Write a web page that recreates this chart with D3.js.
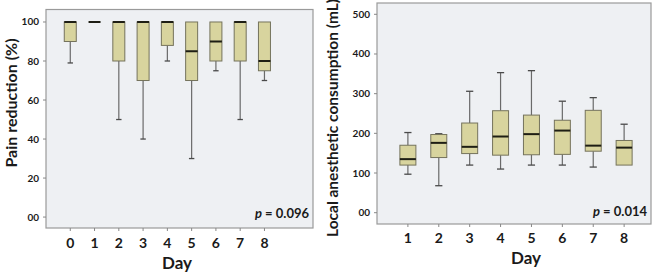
<!DOCTYPE html>
<html>
<head>
<meta charset="utf-8">
<script src="https://cdn.jsdelivr.net/npm/d3@7"></script>
<style>
  body { margin: 0; background: #fff; }
  text { font-family: Lato, "Open Sans", sans-serif; font-weight: bold; fill: #1a1a1a; }
</style>
</head>
<body>
<div id="visualization"></div>
<script>
// pain reduction (%), days 0..8
var painDays = [0, 1, 2, 3, 4, 5, 6, 7, 8];
var painMin = [79, 100, 50, 40, 80, 30, 75, 50, 70];
var painQ1 = [90, 100, 80, 70, 88, 70, 80, 80, 75];
var painMed = [100, 100, 100, 100, 100, 85, 90, 100, 80];
var painQ3 = [100, 100, 100, 100, 100, 100, 100, 100, 100];
var painMax = [100, 100, 100, 100, 100, 100, 100, 100, 100];
var painTicks = [0, 20, 40, 60, 80, 100];

// local anesthetic consumption (mL), days 1..8
var laDays = [1, 2, 3, 4, 5, 6, 7, 8];
var laMin = [97, 68, 120, 110, 120, 120, 115, 120];
var laQ1 = [120, 139, 149, 145, 146, 147, 155, 120];
var laMed = [135, 176, 166, 192, 198, 207, 169, 164];
var laQ3 = [170, 197, 226, 257, 246, 233, 258, 182];
var laMax = [202, 199, 306, 353, 358, 281, 290, 223];
var laTicks = [0, 100, 200, 300, 400, 500];

var W = 653, H = 272;
var svg = d3.select("#visualization").append("svg")
  .attr("width", W).attr("height", H);

function boxPanel(opt) {
  var x = d3.scaleLinear().domain(opt.xDomain).range(opt.xRange);
  var y = d3.scaleLinear().domain(opt.yDomain).range(opt.yRange);
  var g = svg.append("g");

  // plot background + frame
  g.append("rect")
    .attr("x", opt.xRange[0]).attr("y", opt.yRange[1])
    .attr("width", opt.xRange[1] - opt.xRange[0])
    .attr("height", opt.yRange[0] - opt.yRange[1])
    .attr("fill", "#eef0f3").attr("stroke", "#9a9a9a").attr("stroke-width", 1.2);

  // y ticks
  var yt = g.selectAll(".yt").data(opt.yTicks).enter().append("g");
  yt.append("line")
    .attr("x1", opt.xRange[0] - 3).attr("x2", opt.xRange[0])
    .attr("y1", d => y(d)).attr("y2", d => y(d))
    .attr("stroke", "#888");
  yt.append("text")
    .attr("x", opt.xRange[0] - 7).attr("y", d => y(d))
    .attr("dy", "0.35em").attr("text-anchor", "end")
    .style("font-size", "10px")
    .text(d => d === 0 ? "00" : d);

  // x ticks
  var xt = g.selectAll(".xt").data(opt.days).enter().append("g");
  xt.append("line")
    .attr("x1", d => x(d)).attr("x2", d => x(d))
    .attr("y1", opt.yRange[0]).attr("y2", opt.yRange[0] + 3)
    .attr("stroke", "#888");
  xt.append("text")
    .attr("x", d => x(d)).attr("y", opt.xLabelY)
    .attr("dy", "0.35em").attr("text-anchor", "middle")
    .style("font-size", "14px")
    .text(d => d);

  // whiskers
  var rows = opt.days.map((d, i) => ({ day: d, min: opt.min[i], q1: opt.q1[i], med: opt.med[i], q3: opt.q3[i], max: opt.max[i] }));
  var bw = opt.boxWidth, cap = bw * 0.45;
  var b = g.selectAll(".box").data(rows).enter().append("g");
  b.append("line")
    .attr("x1", d => x(d.day)).attr("x2", d => x(d.day))
    .attr("y1", d => y(d.min)).attr("y2", d => y(d.q1))
    .attr("stroke", "#6a6a6a").attr("stroke-width", 1.2);
  b.append("line")
    .attr("x1", d => x(d.day)).attr("x2", d => x(d.day))
    .attr("y1", d => y(d.q3)).attr("y2", d => y(d.max))
    .attr("stroke", "#6a6a6a").attr("stroke-width", 1.2);
  b.filter(d => d.min < d.q1).append("line")
    .attr("x1", d => x(d.day) - cap / 2).attr("x2", d => x(d.day) + cap / 2)
    .attr("y1", d => y(d.min)).attr("y2", d => y(d.min))
    .attr("stroke", "#4a4a4a").attr("stroke-width", 1.3);
  b.filter(d => d.max > d.q3).append("line")
    .attr("x1", d => x(d.day) - cap / 2).attr("x2", d => x(d.day) + cap / 2)
    .attr("y1", d => y(d.max)).attr("y2", d => y(d.max))
    .attr("stroke", "#4a4a4a").attr("stroke-width", 1.3);
  b.filter(d => d.q3 > d.q1).append("rect")
    .attr("x", d => x(d.day) - bw / 2).attr("width", bw)
    .attr("y", d => y(d.q3)).attr("height", d => y(d.q1) - y(d.q3))
    .attr("fill", "#d8d49e").attr("stroke", "#75735c").attr("stroke-width", 1);
  b.append("line")
    .attr("x1", d => x(d.day) - bw / 2).attr("x2", d => x(d.day) + bw / 2)
    .attr("y1", d => y(d.med)).attr("y2", d => y(d.med))
    .attr("stroke", "#1e1e14").attr("stroke-width", 2);

  // p value
  var p = g.append("text")
    .attr("x", opt.xRange[1] - 4).attr("y", opt.pY)
    .attr("dy", "0.35em").attr("text-anchor", "end")
    .style("font-size", "13px");
  p.append("tspan").style("font-style", "italic").text("p");
  p.append("tspan").text(" = " + opt.pText);

  // axis titles
  g.append("text")
    .attr("x", opt.dayX).attr("y", opt.dayY)
    .attr("dy", "0.35em").attr("text-anchor", "middle")
    .style("font-size", "17px")
    .text("Day");
  g.append("text")
    .attr("transform", "translate(" + opt.titleX + "," + opt.titleY + ") rotate(-90)")
    .attr("dy", "0.35em").attr("text-anchor", "middle")
    .style("font-size", opt.titleSize)
    .text(opt.title);
}

boxPanel({
  days: painDays, min: painMin, q1: painQ1, med: painMed, q3: painQ3, max: painMax,
  yTicks: painTicks,
  xDomain: [-1, 10], xRange: [46, 313],
  yDomain: [-5.6, 106.4], yRange: [228, 9.5],
  boxWidth: 12, xLabelY: 243, pY: 213, pText: "0.096",
  dayX: 177, dayY: 263,
  title: "Pain reduction (%)", titleX: 11, titleY: 103, titleSize: "16px"
});

boxPanel({
  days: laDays, min: laMin, q1: laQ1, med: laMed, q3: laQ3, max: laMax,
  yTicks: laTicks,
  xDomain: [0, 8.87], xRange: [377, 651],
  yDomain: [-28.5, 528.5], yRange: [224, 3],
  boxWidth: 16, xLabelY: 238, pY: 211, pText: "0.014",
  dayX: 526, dayY: 258,
  title: "Local anesthetic consumption (mL)", titleX: 333, titleY: 118, titleSize: "15.5px"
});
</script>
</body>
</html>
